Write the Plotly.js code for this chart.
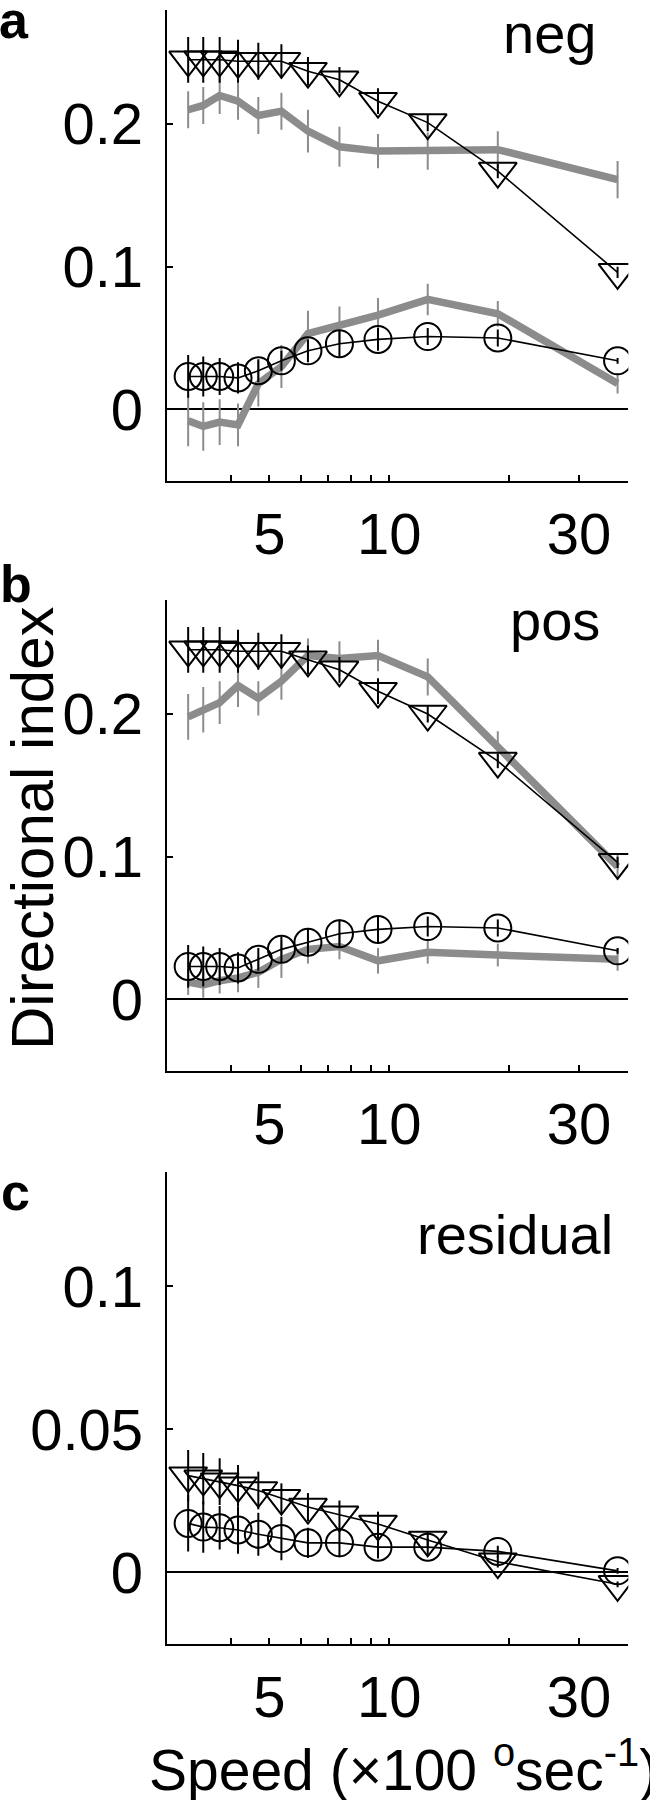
<!DOCTYPE html>
<html><head><meta charset="utf-8">
<script src="https://cdn.plot.ly/plotly-3.0.1.min.js"></script>
<style>html,body{margin:0;padding:0;background:#fff}</style>
</head><body><div id="chart" style="width:650px;height:1800px"></div>
<script>
// ---- data (speed in x100 deg/s) ----
const speeds = [3.125, 3.41, 3.75, 4.17, 4.69, 5.36, 6.25, 7.5, 9.375, 12.5, 18.75, 37.5];

// panel a: neg
const negTri      = [0.245, 0.245, 0.245, 0.244, 0.244, 0.244, 0.237, 0.231, 0.216, 0.201, 0.167, 0.096];
const negTriErr   = [0.016, 0.016, 0.016, 0.015, 0.013, 0.012, 0.010, 0.009, 0.009, 0.006, 0.005, 0.004];
const negCirc     = [0.023, 0.023, 0.023, 0.022, 0.027, 0.034, 0.041, 0.046, 0.049, 0.051, 0.050, 0.034];
const negCircErr  = [0.015, 0.014, 0.013, 0.011, 0.008, 0.007, 0.008, 0.009, 0.008, 0.006, 0.006, 0.002];
const negGrayHi   = [0.210, 0.213, 0.220, 0.216, 0.206, 0.209, 0.195, 0.184, 0.181, 0.181, 0.182, 0.161];
const negGrayHiErr= [0.013, 0.013, 0.013, 0.013, 0.013, 0.013, 0.015, 0.014, 0.012, 0.013, 0.013, 0.013];
const negGrayLo   = [-0.008, -0.012, -0.009, -0.011, 0.018, 0.030, 0.053, 0.059, 0.066, 0.077, 0.067, 0.018];
const negGrayLoErr= [0.018, 0.017, 0.016, 0.015, 0.016, 0.015, 0.016, 0.013, 0.012, 0.011, 0.009, 0.007];

// panel b: pos
const posTri      = [0.245, 0.245, 0.245, 0.244, 0.244, 0.244, 0.238, 0.231, 0.216, 0.200, 0.167, 0.096];
const posTriErr   = [0.016, 0.016, 0.016, 0.015, 0.013, 0.012, 0.010, 0.009, 0.009, 0.006, 0.005, 0.004];
const posCirc     = [0.023, 0.023, 0.023, 0.022, 0.028, 0.035, 0.040, 0.046, 0.049, 0.051, 0.050, 0.034];
const posCircErr  = [0.015, 0.014, 0.013, 0.011, 0.008, 0.009, 0.010, 0.010, 0.010, 0.007, 0.006, 0.002];
const posGrayHi   = [0.198, 0.203, 0.208, 0.220, 0.211, 0.223, 0.241, 0.239, 0.241, 0.226, 0.177, 0.093];
const posGrayHiErr= [0.016, 0.016, 0.015, 0.015, 0.012, 0.013, 0.012, 0.012, 0.011, 0.013, 0.011, 0.009];
const posGrayLo   = [0.012, 0.010, 0.013, 0.015, 0.019, 0.028, 0.035, 0.037, 0.027, 0.033, 0.031, 0.028];
const posGrayLoErr= [0.009, 0.009, 0.009, 0.010, 0.011, 0.013, 0.010, 0.009, 0.009, 0.008, 0.008, 0.008];

// panel c: residual
const resTri      = [0.0338, 0.0327, 0.0317, 0.0303, 0.0286, 0.0259, 0.0228, 0.0201, 0.0169, 0.0113, 0.0037, -0.0042];
const resTriErr   = [0.0090, 0.0090, 0.0082, 0.0072, 0.0066, 0.0052, 0.0049, 0.0050, 0.0043, 0.0030, 0.0020, 0.0010];
const resCirc     = [0.0171, 0.0158, 0.0156, 0.0148, 0.0133, 0.0118, 0.0103, 0.0103, 0.0088, 0.0088, 0.0073, 0.0005];
const resCircErr  = [0.0098, 0.0090, 0.0076, 0.0083, 0.0075, 0.0076, 0.0053, 0.0050, 0.0040, 0.0030, 0.0020, 0.0010];

const panelNames = ['neg', 'pos', 'residual'];
const panelLetters = ['a', 'b', 'c'];
const xTickVals = [5, 10, 30];
const xTickText = ['5', '10', '30'];
const xMinorVals = [4, 6, 7, 8, 9, 20];
const yTickValsAB = [0, 0.1, 0.2];
const yTickTextAB = ['0', '0.1', '0.2'];
const yTickValsC = [0, 0.05, 0.1];
const yTickTextC = ['0', '0.05', '0.1'];

// ---- layout helpers ----
const W = 650, H = 1800;
const FONT = 'Liberation Sans, Arial, Helvetica, sans-serif';
const GRAY = '#8c8c8c';
const TS = 58;   // tick label size
const fx = p => p / W;
const fy = p => 1 - p / H;
const xDomain = [fx(166.7), fx(628.3)];
const panelBox = [
  {top: 9.9,   bottom: 480.6,  range: [-0.05, 0.28],  tv: yTickValsAB, tt: yTickTextAB},
  {top: 599.9, bottom: 1070.6, range: [-0.05, 0.28],  tv: yTickValsAB, tt: yTickTextAB},
  {top: 1171.9, bottom: 1643.8, range: [-0.025, 0.14], tv: yTickValsC,  tt: yTickTextC}
];

function axIds(k) { return k === 0 ? ['x', 'y'] : ['x' + (k + 1), 'y' + (k + 1)]; }

function grayTrace(y, err, k) {
  const [xa, ya] = axIds(k);
  return {
    x: speeds, y: y, type: 'scatter', mode: 'lines', xaxis: xa, yaxis: ya,
    line: {color: GRAY, width: 7.5},
    error_y: {type: 'data', array: err, visible: true, color: GRAY, thickness: 2, width: 0},
    hoverinfo: 'skip', showlegend: false
  };
}
function blackTrace(y, err, symbol, size, k) {
  const [xa, ya] = axIds(k);
  return {
    x: speeds, y: y, type: 'scatter', mode: 'lines+markers', xaxis: xa, yaxis: ya,
    line: {color: '#000', width: 1.6},
    marker: {symbol: symbol, size: size, color: '#000', line: {color: '#000', width: 2}},
    error_y: {type: 'data', array: err, visible: true, color: '#000', thickness: 2, width: 0},
    hoverinfo: 'skip', showlegend: false
  };
}

const TRI = 'triangle-down-open', CIR = 'circle-open', TRIS = 33, CIRS = 27;
const traces = [
  grayTrace(negGrayHi, negGrayHiErr, 0), grayTrace(negGrayLo, negGrayLoErr, 0),
  blackTrace(negTri, negTriErr, TRI, TRIS, 0), blackTrace(negCirc, negCircErr, CIR, CIRS, 0),
  grayTrace(posGrayHi, posGrayHiErr, 1), grayTrace(posGrayLo, posGrayLoErr, 1),
  blackTrace(posTri, posTriErr, TRI, TRIS, 1), blackTrace(posCirc, posCircErr, CIR, CIRS, 1),
  blackTrace(resTri, resTriErr, TRI, TRIS, 2), blackTrace(resCirc, resCircErr, CIR, CIRS, 2)
];

const layout = {
  width: W, height: H, margin: {l: 0, r: 0, t: 0, b: 0},
  paper_bgcolor: '#fff', plot_bgcolor: '#fff', showlegend: false,
  font: {family: FONT, color: '#000', size: TS},
  annotations: []
};

panelBox.forEach((p, k) => {
  const [xid, yid] = axIds(k);
  const xa = k === 0 ? 'xaxis' : 'xaxis' + (k + 1);
  const ya = k === 0 ? 'yaxis' : 'yaxis' + (k + 1);
  layout[xa] = {
    type: 'log', domain: xDomain, anchor: yid,
    range: [Math.log10(2.76), Math.log10(39.9)],
    tickmode: 'array', tickvals: xTickVals, ticktext: xTickText,
    ticks: 'inside', ticklen: 6, tickwidth: 2, tickcolor: '#000',
    minor: {tickmode: 'array', tickvals: xMinorVals, ticks: 'inside', ticklen: 6, tickwidth: 2, tickcolor: '#000', showgrid: false},
    showline: true, linecolor: '#000', linewidth: 2, showgrid: false, zeroline: false,
    tickfont: {family: FONT, size: TS, color: '#000'}, ticklabelstandoff: 2
  };
  layout[ya] = {
    domain: [fy(p.bottom), fy(p.top)], anchor: xid, range: p.range,
    tickmode: 'array', tickvals: p.tv, ticktext: p.tt,
    ticks: 'inside', ticklen: 6, tickwidth: 2, tickcolor: '#000',
    showline: true, linecolor: '#000', linewidth: 2, showgrid: false,
    zeroline: true, zerolinecolor: '#000', zerolinewidth: 2,
    tickfont: {family: FONT, size: TS, color: '#000'}, ticklabelstandoff: 10
  };
});

const textPos = [
  {name: [549, 34], letter: [14, 20]},
  {name: [555, 620], letter: [16, 584]},
  {name: [515, 1234], letter: [15, 1192]}
];
textPos.forEach((t, k) => {
  layout.annotations.push({
    text: panelNames[k], xref: 'paper', yref: 'paper', x: fx(t.name[0]), y: fy(t.name[1]),
    xanchor: 'center', yanchor: 'middle', showarrow: false,
    font: {family: FONT, size: 56, color: '#000'}
  });
  layout.annotations.push({
    text: '<b>' + panelLetters[k] + '</b>', xref: 'paper', yref: 'paper', x: fx(t.letter[0]), y: fy(t.letter[1]),
    xanchor: 'center', yanchor: 'middle', showarrow: false,
    font: {family: FONT, size: 52, color: '#000'}
  });
});
layout.annotations.push({
  text: 'Directional index', xref: 'paper', yref: 'paper', x: fx(33), y: fy(828),
  xanchor: 'center', yanchor: 'middle', textangle: -90, showarrow: false,
  font: {family: FONT, size: 60, color: '#000'}
});
layout.annotations.push({
  text: 'Speed (\u00d7100 <sup>o</sup>sec<sup>-1</sup>)', xref: 'paper', yref: 'paper', x: fx(147), y: fy(1766),
  xanchor: 'left', yanchor: 'middle', showarrow: false,
  font: {family: FONT, size: 57, color: '#000'}
});

Plotly.newPlot('chart', traces, layout, {staticPlot: true, displayModeBar: false});
</script>
</body></html>
